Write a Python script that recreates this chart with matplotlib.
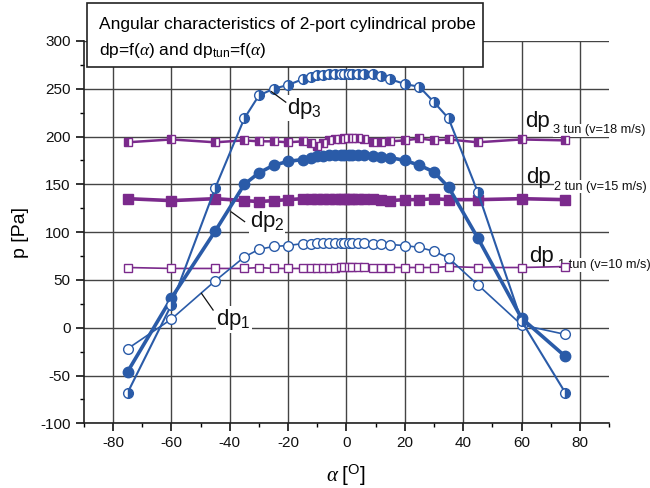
import matplotlib
matplotlib.use("Agg")
import matplotlib.pyplot as plt
from matplotlib.patches import Rectangle
from matplotlib.ticker import MultipleLocator

plt.rcParams['font.family'] = ['Liberation Sans', 'DejaVu Sans']
plt.rcParams['mathtext.fontset'] = 'custom'
plt.rcParams['mathtext.rm'] = 'Liberation Sans'
plt.rcParams['mathtext.it'] = 'Liberation Serif:italic'
plt.rcParams['axes.unicode_minus'] = False

# angle [deg]
alpha = [-75, -60, -45, -35, -30, -25, -20, -15, -12, -10, -8, -6, -4, -2, -1,
         1, 2, 4, 6, 9, 12, 15, 20, 25, 30, 35, 45, 60, 75]

dp1 = [-22, 9, 49, 74, 82, 85, 86, 88, 88, 89, 89, 89, 89, 89, 89,
       89, 89, 89, 89, 88, 88, 87, 86, 84, 80, 73, 45, 3, -7]
dp2 = [-46, 31, 101, 150, 162, 170, 174, 176, 178, 180, 180, 181, 181, 181, 181,
       181, 181, 181, 181, 180, 179, 178, 175, 170, 163, 147, 94, 10, -30]
dp3 = [-68, 24, 146, 219, 243, 250, 254, 260, 262, 264, 264, 265, 265, 265, 265,
       265, 265, 265, 265, 265, 263, 260, 255, 252, 236, 219, 142, 7, -68]

dp1_tun = [63, 62, 62, 62, 63, 62, 62, 62, 62, 62, 62, 63, 63, 64, 64,
           64, 64, 64, 64, 63, 63, 63, 63, 63, 63, 64, 63, 63, 64]
dp2_tun = [135, 133, 135, 133, 132, 133, 134, 135, 135, 135, 135, 135, 135, 135, 135,
           135, 135, 135, 135, 135, 134, 133, 134, 134, 135, 134, 134, 135, 134]
dp3_tun = [194, 197, 194, 196, 195, 195, 194, 195, 193, 190, 193, 196, 197, 197, 198,
           199, 199, 198, 197, 194, 194, 195, 196, 198, 196, 197, 194, 197, 196]

blue = '#2a5ba8'
purple = '#7b2a8c'

fig = plt.figure(figsize=(6.5, 4.88), dpi=100)
ax = fig.add_axes([0.129, 0.1326, 0.808, 0.7834])

# tunnel reference lines
ax.plot(alpha, dp1_tun, '-s', color=purple, lw=1.2, ms=6, mfc='white', mec=purple, mew=1.0, zorder=3)
ax.plot(alpha, dp2_tun, '-s', color=purple, lw=2.6, ms=6.5, mfc=purple, mec=purple, zorder=3)
ax.plot(alpha, dp3_tun, '-s', color=purple, lw=1.8, ms=6, mfc=purple, mec=purple,
        fillstyle='left', markerfacecoloralt='white', mew=1.0, zorder=3)

# probe characteristics
ax.plot(alpha, dp1, '-o', color=blue, lw=1.2, ms=7, mfc='white', mec=blue, mew=1.0, zorder=4)
ax.plot(alpha, dp2, '-o', color=blue, lw=2.6, ms=7.5, mfc=blue, mec=blue, zorder=4)
ax.plot(alpha, dp3, '-o', color=blue, lw=1.5, ms=7, mfc=blue, mec=blue,
        fillstyle='right', markerfacecoloralt='white', mew=1.0, zorder=4)

ax.set_xlim(-90, 90)
ax.set_ylim(-100, 300)
ax.xaxis.set_major_locator(MultipleLocator(20))
ax.xaxis.set_minor_locator(MultipleLocator(10))
ax.yaxis.set_major_locator(MultipleLocator(50))
ax.yaxis.set_minor_locator(MultipleLocator(25))
ax.tick_params(which='major', direction='out', length=6, width=1.2, labelsize=11, colors='#111')
ax.tick_params(which='minor', direction='out', length=3, width=1.0)
ax.grid(True, which='major', color='#444', lw=1.0, zorder=1)
ax.set_axisbelow(True)
for s in ['top', 'right']:
    ax.spines[s].set_visible(False)
for s in ['left', 'bottom']:
    ax.spines[s].set_linewidth(1.2)
    ax.spines[s].set_color('#222')

ax.set_ylabel('p [Pa]', fontsize=14, labelpad=8)
ax.set_xlabel(r'$\alpha\ [^{\rm O}]$', fontsize=15, labelpad=9)

bg = dict(facecolor='white', edgecolor='none', pad=0.5)
lab = dict(fontsize=16, color='#111', zorder=2.2, bbox=bg)
ax.text(-20.4, 224, r'dp$_3$', **lab)
ax.text(-33.2, 105, r'dp$_2$', **lab)
ax.text(-44.6, 3, r'dp$_1$', **lab)

# tunnel labels: big "dp" plus small subscript
tun_labels = [(61.1, 210, '3 tun (v=18 m/s)'),
              (61.5, 151, '2 tun (v=15 m/s)'),
              (62.6, 69, '1 tun (v=10 m/s)')]
for x, y, sub in tun_labels:
    ax.annotate(sub, xy=(x, y), xytext=(20.5, -4.5), textcoords='offset points',
                fontsize=9.2, color='#111', zorder=2, bbox=bg)
    ax.text(x, y, 'dp', fontsize=16, color='#111', zorder=2.2)

# leader lines
ax.plot([-25.7, -20.8], [247, 236], color='#111', lw=0.9, zorder=5)
ax.plot([-39.4, -34.9], [121, 111], color='#111', lw=0.9, zorder=5)
ax.plot([-49.7, -45.7], [36, 18.5], color='#111', lw=0.9, zorder=5)

# title box
box = Rectangle((87 / 650, 1 - 67 / 488), (483 - 87) / 650, 64 / 488,
                transform=fig.transFigure, facecolor='white', edgecolor='#222', lw=1.2, zorder=5)
fig.add_artist(box)
fig.text(99 / 650, 1 - 24 / 488, 'Angular characteristics of 2-port cylindrical probe',
         fontsize=12.5, va='center', ha='left', zorder=6)
fig.text(99 / 650, 1 - 51 / 488, r'dp=f($\alpha$) and dp$_{\rm tun}$=f($\alpha$)',
         fontsize=12.5, va='center', ha='left', zorder=6)

fig.savefig('out.png', dpi=100)
